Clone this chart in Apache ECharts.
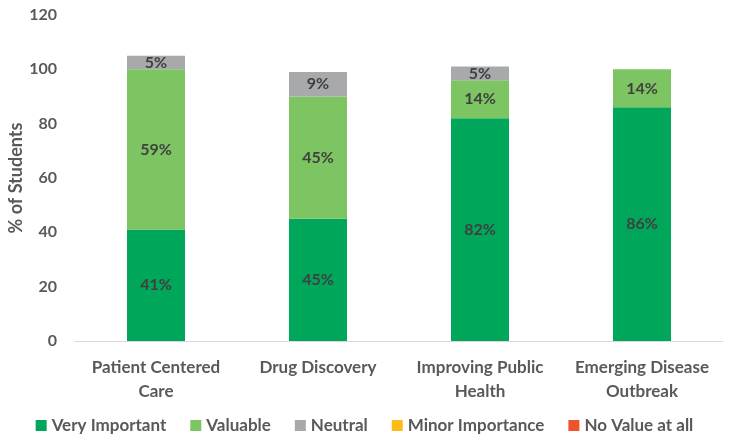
<!DOCTYPE html>
<html>
<head>
<meta charset="utf-8">
<script src="https://cdn.jsdelivr.net/npm/echarts@6/dist/echarts.min.js"></script>
<style>
  html, body { margin: 0; padding: 0; background: #fff; }
  #chart { width: 729px; height: 442px; }
</style>
</head>
<body>
<div id="chart"></div>
<script>
const categories = ['Patient Centered\nCare', 'Drug Discovery', 'Improving Public\nHealth', 'Emerging Disease\nOutbreak'];
const veryImportant = [41, 45, 82, 86];
const valuable = [59, 45, 14, 14];
const neutral = [5, 9, 5, 0];
const minorImportance = [0, 0, 0, 0];
const noValue = [0, 0, 0, 0];
const yTicks = [0, 20, 40, 60, 80, 100, 120];

const font = 'Lato, "Open Sans", sans-serif';

function seg(name, data, color) {
  return {
    name: name,
    type: 'bar',
    stack: 'total',
    data: data,
    barWidth: 58,
    itemStyle: { color: color },
    label: {
      show: true,
      position: 'inside',
      color: '#404040',
      fontFamily: font,
      fontWeight: 'bold',
      fontSize: 16,
      formatter: p => (p.value > 0 ? p.value + '%' : '')
    }
  };
}

const chart = echarts.init(document.getElementById('chart'));
chart.setOption({
  animation: false,
  grid: { left: 75, right: 6, top: 15, bottom: 101, outerBoundsMode: 'none' },
  legend: {
    bottom: 3,
    left: 'center',
    itemWidth: 11,
    itemHeight: 11,
    itemGap: 24,
    icon: 'rect',
    textStyle: { color: '#595959', fontFamily: font, fontWeight: 'bold', fontSize: 17 },
    data: ['Very Important', 'Valuable', 'Neutral', 'Minor Importance', 'No Value at all']
  },
  xAxis: {
    type: 'category',
    data: categories,
    axisLine: { lineStyle: { color: '#d9d9d9', width: 1 } },
    axisTick: { show: false },
    axisLabel: { interval: 0, hideOverlap: false, color: '#595959', fontFamily: font, fontWeight: 'bold', fontSize: 17, margin: 15, lineHeight: 24 }
  },
  yAxis: {
    type: 'value',
    min: yTicks[0],
    max: yTicks[yTicks.length - 1],
    interval: 20,
    name: '% of Students',
    nameLocation: 'middle',
    nameGap: 50,
    nameMoveOverlap: false,
    nameTextStyle: { color: '#595959', fontFamily: font, fontWeight: 'bold', fontSize: 18 },
    splitLine: { show: false },
    axisLine: { show: false },
    axisTick: { show: false },
    axisLabel: { color: '#595959', fontFamily: font, fontWeight: 'bold', fontSize: 16, margin: 18 }
  },
  series: [
    seg('Very Important', veryImportant, '#00a65a'),
    seg('Valuable', valuable, '#7dc462'),
    seg('Neutral', neutral, '#a7a9ab'),
    seg('Minor Importance', minorImportance, '#fbbc1a'),
    seg('No Value at all', noValue, '#f0532b')
  ]
});
</script>
</body>
</html>
